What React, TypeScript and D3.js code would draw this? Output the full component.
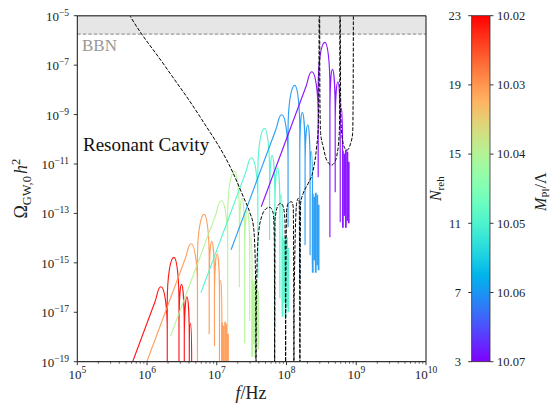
import React from "react";
import * as d3 from "d3";

// ---------- data (log10 f/Hz, log10 Ω h²) ----------
const xTickExps = [5, 6, 7, 8, 9, 10];
const yTickExps = [-5, -7, -9, -11, -13, -15, -17, -19];
const nRehValues = [23, 19, 15, 11, 7, 3];
const nRehTicks = [23, 19, 15, 11, 7, 3];
const ratioTicks = ["10.02", "10.03", "10.04", "10.05", "10.06", "10.07"];
const bbnBound = 1.8e-6;

// rising power-law part of each spectrum: start point and knee before the first peak
const riseStart = [
  [5.473, -21.43], [5.906, -19.69], [6.339, -17.95], [6.772, -16.21], [7.205, -14.47], [7.637, -12.73],
];
const riseKnee = [
  [6.114, -16.574], [6.547, -14.834], [6.98, -13.094], [7.413, -11.354], [7.846, -9.614], [8.278, -7.874],
];
// lobe maxima of each spectrum
const lobePeaks = [
  [[6.2, -15.967], [6.386, -14.777], [6.494, -15.87], [6.573, -16.372], [6.623, -17.448]],
  [[6.633, -14.227], [6.819, -13.037], [6.927, -14.13], [7.006, -14.632], [7.056, -15.708]],
  [[7.066, -12.487], [7.252, -11.297], [7.36, -12.39], [7.439, -12.892], [7.489, -13.968]],
  [[7.499, -10.747], [7.685, -9.557], [7.793, -10.65], [7.872, -11.152], [7.922, -12.228]],
  [[7.932, -9.007], [8.118, -7.817], [8.226, -8.91], [8.305, -9.412], [8.355, -10.488]],
  [[8.364, -7.267], [8.55, -6.077], [8.658, -7.17], [8.737, -7.672], [8.787, -8.748]],
];
// zeros after each lobe: frequency and depth reached by the drop
const lobeZeros = [
  [[6.29, -20], [6.458, -20], [6.534, -20], [6.606, -20], [6.64, -20]],
  [[6.723, -20], [6.891, -17.869], [6.967, -18.355], [7.039, -20], [7.073, -20]],
  [[7.156, -17.829], [7.324, -15.967], [7.4, -18.234], [7.472, -17.343], [7.506, -18.557]],
  [[7.589, -15.603], [7.757, -14.065], [7.833, -17.586], [7.905, -16.413], [7.939, -16.817]],
  [[8.022, -13.54], [8.19, -15.806], [8.266, -14.268], [8.338, -14.673], [8.372, -15.077]],
  [[8.454, -11.516], [8.622, -13.944], [8.698, -12.123], [8.77, -13.337], [8.804, -12.933]],
];
// dense oscillation tails: [f, top, bottom]
const tailSpikes = [
  [],
  [[7.077, -17.424, -20], [7.099, -17.545, -20], [7.12, -17.384, -20], [7.142, -17.465, -20], [7.161, -17.869, -20]],
  [[7.51, -15.684, -18.8], [7.532, -15.805, -18.3], [7.553, -15.644, -18.8], [7.575, -15.725, -17.9], [7.594, -16.129, -18.5]],
  [[7.943, -13.944, -17.18], [7.965, -14.065, -16.6], [7.986, -13.904, -17.18], [8.008, -13.985, -16.8], [8.027, -14.389, -17.0]],
  [[8.376, -12.204, -15.4], [8.398, -12.325, -14.9], [8.419, -12.164, -15.4], [8.441, -12.245, -15.1], [8.46, -12.649, -15.3]],
  [[8.808, -10.464, -13.58], [8.83, -10.585, -13.1], [8.851, -10.424, -13.58], [8.873, -10.505, -13.3], [8.892, -10.909, -13.4]],
];
// resonant cavity sensitivity curve
const cavity = [
  [5.669, -4.567], [5.755, -5.0], [6.257, -7.036], [6.759, -9.087], [7.236, -11.378], [7.38, -12.325],
  [7.476, -12.985], [7.523, -13.47], [7.547, -14.482], [7.559, -16.505], [7.562, -19.75], [7.567, -16.505],
  [7.595, -13.944], [7.643, -13.134], [7.715, -12.794], [7.762, -12.754], [7.81, -12.997], [7.824, -13.944],
  [7.828, -16.505], [7.83, -19.75], [7.832, -16.505], [7.834, -13.268], [7.881, -12.661], [7.916, -12.592],
  [7.953, -12.73], [7.977, -13.268], [7.985, -16.505], [7.987, -19.75], [7.99, -16.505], [8.002, -12.863],
  [8.025, -12.592], [8.073, -12.527], [8.096, -12.73], [8.104, -16.505], [8.106, -19.75], [8.109, -16.505],
  [8.145, -12.592], [8.168, -12.39], [8.182, -12.527], [8.189, -16.505], [8.192, -19.75], [8.195, -16.505],
  [8.202, -12.592], [8.24, -12.187], [8.311, -11.783], [8.383, -11.245], [8.432, -10.301], [8.455, -9.492],
  [8.465, -7.602], [8.469, -4.365], [8.474, -4.365], [8.479, -8.41], [8.489, -9.759], [8.526, -10.302],
  [8.575, -10.84], [8.647, -11.042], [8.694, -10.909], [8.718, -10.706], [8.756, -9.759], [8.763, -8.41],
  [8.766, -4.365], [8.768, -4.365], [8.776, -8.41], [8.79, -9.759], [8.837, -10.366], [8.87, -10.435],
  [8.919, -10.164], [8.948, -9.759], [8.955, -8.41], [8.959, -4.365],
];

// ---------- layout ----------
const W = 554, H = 404;
const L = 77.3, R = 426, T = 15.7, B = 361.7;
const CB = { x: 471.7, w: 18.3 };
const FONT = "'Liberation Serif', 'DejaVu Serif', serif";

function rainbow(t: number) {
  const r = Math.min(1, Math.abs(2 * t - 0.5));
  const g = Math.sin(Math.PI * t);
  const b = Math.cos((Math.PI * t) / 2);
  return d3.rgb(r * 255, g * 255, b * 255).formatHex();
}

export default function App() {
  const x = d3.scaleLog().domain([1e5, 1e10]).range([L, R]);
  const y = d3.scaleLog().domain([1e-19, 1e-5]).range([B, T]);
  const X = (e: number) => x(Math.pow(10, e));
  const Y = (e: number) => y(Math.pow(10, e));
  const color = d3.scaleSequential(rainbow).domain([3, 23]);
  const cb = d3.scaleLinear().domain([3, 23]).range([B, T]);
  const CAP = 45;
  const K = 0.5523;

  function curvePath(i: number) {
    const p = d3.path();
    const s = riseStart[i], k = riseKnee[i];
    const sx = X(s[0]), sy = Y(s[1]), kx = X(k[0]), ky = Y(k[1]);
    p.moveTo(sx, sy);
    p.lineTo(kx, ky);
    let prevDepth = 0, prevZx = 0;
    lobePeaks[i].forEach((pk, j) => {
      const px = X(pk[0]), py = Y(pk[1]);
      if (j === 0) {
        const dx = kx - sx, dy = ky - sy, len = Math.hypot(dx, dy);
        const d = Math.hypot(px - kx, py - ky) * 0.45;
        p.bezierCurveTo(kx + (dx / len) * d, ky + (dy / len) * d, px - (px - kx) * 0.55, py, px, py);
      } else {
        const lx = prevZx;
        const ryL = Math.max(1, Math.min(CAP, prevDepth - py));
        p.lineTo(lx, py + ryL);
        const rx = px - lx;
        p.bezierCurveTo(lx, py + ryL - K * ryL, px - K * rx, py, px, py);
      }
      const z = lobeZeros[i][j];
      const zx = X(z[0]), zy = Y(z[1]);
      const ryR = Math.max(1, Math.min(CAP, zy - py));
      const rx = zx - px;
      p.bezierCurveTo(px + K * rx, py, zx, py + ryR - K * ryR, zx, py + ryR);
      p.lineTo(zx, zy);
      prevDepth = zy;
      prevZx = zx;
    });
    return p.toString();
  }

  const cavityLine = d3
    .line<number[]>()
    .x((d) => X(d[0]))
    .y((d) => Y(d[1]))
    .curve(d3.curveMonotoneX);

  const minorTicks: number[] = [];
  for (let e = 5; e < 10; e++) for (let m = 2; m <= 9; m++) minorTicks.push(m * Math.pow(10, e));

  const gradStops = d3.range(0, 1.0001, 0.05);

  return (
    <svg width={W} height={H} style={{ position: "absolute", left: 0, top: 0, background: "#fff" }} fontFamily={FONT}>
      <defs>
        <clipPath id="plotclip">
          <rect x={L} y={T} width={R - L} height={B - T} />
        </clipPath>
        <linearGradient id="cbgrad" x1="0" y1="1" x2="0" y2="0">
          {gradStops.map((t) => (
            <stop key={t} offset={t} stopColor={rainbow(t)} />
          ))}
        </linearGradient>
      </defs>

      {/* BBN band */}
      <rect x={L} y={y(1e-5)} width={R - L} height={y(bbnBound) - y(1e-5)} fill="#e6e6e6" />
      <line x1={L} x2={R} y1={y(bbnBound)} y2={y(bbnBound)} stroke="#777" strokeWidth={0.9} strokeDasharray="3.5,2" />

      {/* spectra */}
      <g clipPath="url(#plotclip)">
        {nRehValues.map((n, i) => (
          <g key={n} opacity={0.9}>
            <path d={curvePath(i)} fill="none" stroke={color(n)} strokeWidth={1.15} strokeLinejoin="round" />
            {tailSpikes[i].map((s, j) => (
              <line key={j} x1={X(s[0])} x2={X(s[0])} y1={Y(s[1])} y2={Y(s[2])} stroke={color(n)} strokeWidth={1.8} />
            ))}
          </g>
        ))}
        <path d={cavityLine(cavity) || ""} fill="none" stroke="#000" strokeWidth={1} strokeDasharray="3.7,1.6" />
      </g>

      {/* axes frame */}
      <line x1={L} x2={R} y1={T} y2={T} stroke="#555" strokeWidth={1.4} />
      <line x1={L} x2={L} y1={T} y2={B} stroke="#111" strokeWidth={1} />
      <line x1={R} x2={R} y1={T} y2={B} stroke="#111" strokeWidth={1} />
      <line x1={L} x2={R} y1={B} y2={B} stroke="#333" strokeWidth={1.2} />

      {/* x ticks */}
      {minorTicks.map((v) => (
        <line key={v} x1={x(v)} x2={x(v)} y1={B} y2={B + 2} stroke="#222" strokeWidth={0.7} />
      ))}
      {xTickExps.map((e) => (
        <g key={e}>
          <line x1={x(Math.pow(10, e))} x2={x(Math.pow(10, e))} y1={B} y2={B + 3.5} stroke="#222" strokeWidth={0.9} />
          <text x={x(Math.pow(10, e))} y={378.5} fontSize={13} textAnchor="middle" fill="#222">
            10<tspan fontSize={9.5} dy={-5.5}>{e}</tspan>
          </text>
        </g>
      ))}

      {/* y ticks */}
      {yTickExps.map((e) => (
        <g key={e}>
          <line x1={L - 3.5} x2={L} y1={y(Math.pow(10, e))} y2={y(Math.pow(10, e))} stroke="#222" strokeWidth={0.9} />
          <text x={69} y={y(Math.pow(10, e)) + 5} fontSize={13} textAnchor="end" fill="#222">
            10<tspan fontSize={9.5} dy={-5}>{"\u2212" + Math.abs(e)}</tspan>
          </text>
        </g>
      ))}

      {/* axis labels */}
      <text x={251} y={398.5} fontSize={18} textAnchor="middle" fill="#222">
        <tspan fontStyle="italic">f</tspan>/Hz
      </text>
      <text transform={`translate(27,${(T + B) / 2}) rotate(-90)`} fontSize={18} textAnchor="middle" fill="#222">
        Ω<tspan fontSize={12.5} dy={4}>GW,0</tspan>
        <tspan dy={-4} fontStyle="italic" dx={2}>h</tspan>
        <tspan fontSize={12.5} dy={-7}>2</tspan>
      </text>

      {/* annotations */}
      <text x={82} y={50.7} fontSize={17} fill="#999">BBN</text>
      <text x={83} y={150.5} fontSize={19} fill="#111">Resonant Cavity</text>

      {/* colorbar */}
      <rect x={CB.x} y={T} width={CB.w} height={B - T} fill="url(#cbgrad)" stroke="#333" strokeWidth={0.8} />
      {nRehTicks.map((n, i) => (
        <g key={n}>
          <line x1={CB.x - 3.5} x2={CB.x} y1={cb(n)} y2={cb(n)} stroke="#222" strokeWidth={0.9} />
          <text x={461} y={cb(n) + 4.3} fontSize={12.5} textAnchor="end" fill="#222">{n}</text>
          <line x1={CB.x + CB.w} x2={CB.x + CB.w + 3.5} y1={cb(n)} y2={cb(n)} stroke="#222" strokeWidth={0.9} />
          <text x={497} y={cb(n) + 4.3} fontSize={12.5} textAnchor="start" fill="#222">{ratioTicks[i]}</text>
        </g>
      ))}
      <text transform={`translate(441,${(T + B) / 2}) rotate(-90)`} fontSize={16} textAnchor="middle" fill="#222">
        <tspan fontStyle="italic">N</tspan>
        <tspan fontSize={11} dy={3}>reh</tspan>
      </text>
      <text transform={`translate(546,${(T + B) / 2 + 3}) rotate(-90)`} fontSize={16} textAnchor="middle" fill="#222">
        <tspan fontStyle="italic">M</tspan>
        <tspan fontSize={11} dy={3}>Pl</tspan>
        <tspan dy={-3}>/Λ</tspan>
      </text>
    </svg>
  );
}
